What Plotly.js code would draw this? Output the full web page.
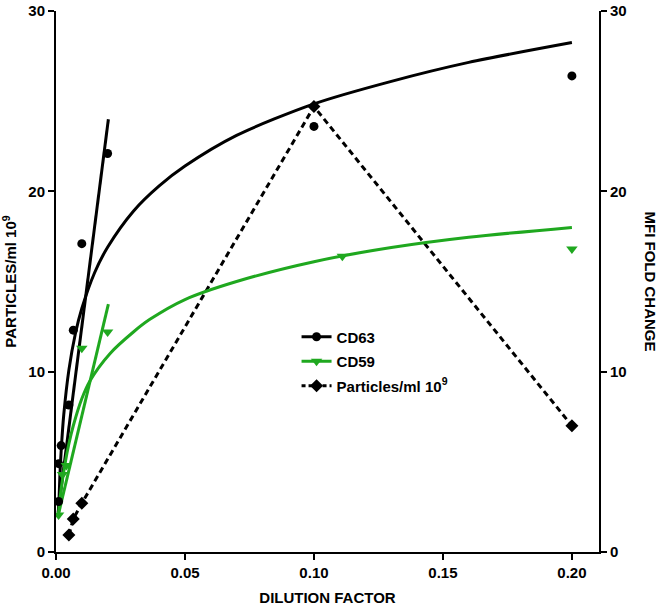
<!DOCTYPE html>
<html>
<head>
<meta charset="utf-8">
<script src="https://cdn.plot.ly/plotly-3.0.1.min.js"></script>
<style>html,body{margin:0;padding:0;background:#fff;}#chart{width:666px;height:609px;}</style>
</head>
<body>
<div id="chart"></div>
<script>
// Measured points
const cd63X = [0.001, 0.001, 0.002, 0.005, 0.0067, 0.01, 0.02, 0.1, 0.2];
const cd63Y = [2.8, 4.9, 5.9, 8.15, 12.3, 17.1, 22.1, 23.6, 26.4];
const cd59X = [0.001, 0.0025, 0.004, 0.01, 0.02, 0.111, 0.2];
const cd59Y = [2.05, 4.3, 4.8, 11.3, 12.2, 16.4, 16.8];
const partX = [0.005, 0.0067, 0.01, 0.1, 0.2];
const partY = [0.94, 1.83, 2.7, 24.7, 7.0];

// Fitted lines
const cd63LinX = [0.0008, 0.0203];
const cd63LinY = [2.2, 24.0];
const cd59LinX = [0.0008, 0.0203];
const cd59LinY = [2.0, 13.75];
const cd63CurveX = [0.001, 0.0015, 0.002, 0.003, 0.005, 0.0075, 0.01, 0.015, 0.02, 0.03, 0.04, 0.05, 0.07, 0.1, 0.13, 0.16, 0.2];
const cd63CurveY = [2.2, 4.2, 5.6, 7.6, 10.1, 12.1, 13.5, 15.5, 16.9, 18.9, 20.3, 21.4, 23.1, 24.85, 26.1, 27.15, 28.25];
const cd59CurveX = [0.001, 0.002, 0.0035, 0.005, 0.0067, 0.01, 0.0132, 0.0209, 0.03, 0.0364, 0.05, 0.07, 0.1, 0.13, 0.16, 0.2];
const cd59CurveY = [2.2, 3.5, 4.9, 6.0, 7.0, 8.5, 9.5, 11.0, 12.2, 12.9, 14.0, 15.0, 16.1, 16.88, 17.45, 18.0];

const xTicks = [0, 0.05, 0.10, 0.15, 0.20];
const yTicks = [0, 10, 20, 30];

const GREEN = '#1fa81f';
const FONT = 'Liberation Sans, Arial, sans-serif';

const traces = [
  // fit curves
  {x: cd63CurveX, y: cd63CurveY, mode: 'lines', line: {color: '#000', width: 3, shape: 'spline', smoothing: 0.8}, showlegend: false, yaxis: 'y2', hoverinfo: 'skip'},
  {x: cd63LinX, y: cd63LinY, mode: 'lines', line: {color: '#000', width: 3}, showlegend: false, yaxis: 'y2', hoverinfo: 'skip'},
  {x: cd59CurveX, y: cd59CurveY, mode: 'lines', line: {color: GREEN, width: 3, shape: 'spline', smoothing: 0.8}, showlegend: false, yaxis: 'y2', hoverinfo: 'skip'},
  {x: cd59LinX, y: cd59LinY, mode: 'lines', line: {color: GREEN, width: 3}, showlegend: false, yaxis: 'y2', hoverinfo: 'skip'},
  // particles
  {x: partX, y: partY, mode: 'lines+markers', name: 'Particles/ml 10<sup>9</sup>',
   line: {color: '#000', width: 3, dash: '6px,4px'}, marker: {symbol: 'diamond', size: 10, color: '#000'}, showlegend: false},
  // points
  {x: cd63X, y: cd63Y, mode: 'markers', name: 'CD63', marker: {symbol: 'circle', size: 9, color: '#000'}, showlegend: false, yaxis: 'y2'},
  {x: cd59X, y: cd59Y, mode: 'markers', name: 'CD59', marker: {symbol: 'triangle-down', size: 10, color: GREEN}, showlegend: false, yaxis: 'y2'},
  // legend entries
  {x: [null], y: [null], mode: 'lines+markers', name: 'CD63', legendgroup: 'a', line: {color: '#000', width: 3}, marker: {symbol: 'circle', size: 9, color: '#000'}},
  {x: [null], y: [null], mode: 'lines+markers', name: 'CD59', legendgroup: 'b', line: {color: GREEN, width: 3}, marker: {symbol: 'triangle-down', size: 10, color: GREEN}},
  {x: [null], y: [null], mode: 'lines+markers', name: 'Particles/ml 10<sup>9</sup>', legendgroup: 'c', line: {color: '#000', width: 3, dash: '4px,3px'}, marker: {symbol: 'diamond', size: 10, color: '#000'}}
];

const axisCommon = {
  showline: true, linecolor: '#000', linewidth: 2, ticks: 'outside', ticklen: 6, tickwidth: 2, tickcolor: '#000',
  showgrid: false, zeroline: false, tickfont: {family: FONT, size: 15, color: '#000', weight: 'bold'}
};

const layout = {
  width: 666, height: 609,
  margin: {l: 56, r: 67, t: 11, b: 57},
  paper_bgcolor: '#fff', plot_bgcolor: '#fff',
  showlegend: true,
  legend: {x: 0.443, y: 0.428, xanchor: 'left', yanchor: 'top', bgcolor: 'rgba(0,0,0,0)', traceorder: 'grouped',
           font: {family: FONT, size: 15, color: '#000', weight: 'bold'}, tracegroupgap: 2, itemwidth: 30},
  xaxis: Object.assign({}, axisCommon, {range: [0, 0.2105], tickvals: xTicks, tickformat: '.2f',
    title: {text: 'DILUTION FACTOR', font: {family: FONT, size: 15, color: '#000', weight: 'bold'}, standoff: 12}}),
  yaxis: Object.assign({}, axisCommon, {range: [0, 30], tickvals: yTicks,
    title: {text: 'PARTICLES/ml 10<sup>9</sup>', font: {family: FONT, size: 15, color: '#000', weight: 'bold'}, standoff: 9}}),
  yaxis2: Object.assign({}, axisCommon, {range: [0, 30], tickvals: yTicks, overlaying: 'y', side: 'right', anchor: 'x'}),
  annotations: [
    {text: 'MFI FOLD CHANGE', xref: 'paper', yref: 'paper', x: 1, y: 0.5, xshift: 51, textangle: 90,
     showarrow: false, font: {family: FONT, size: 15, color: '#000', weight: 'bold'}, xanchor: 'center', yanchor: 'middle'}
  ]
};

Plotly.newPlot('chart', traces, layout, {displayModeBar: false, staticPlot: true});
</script>
</body>
</html>
